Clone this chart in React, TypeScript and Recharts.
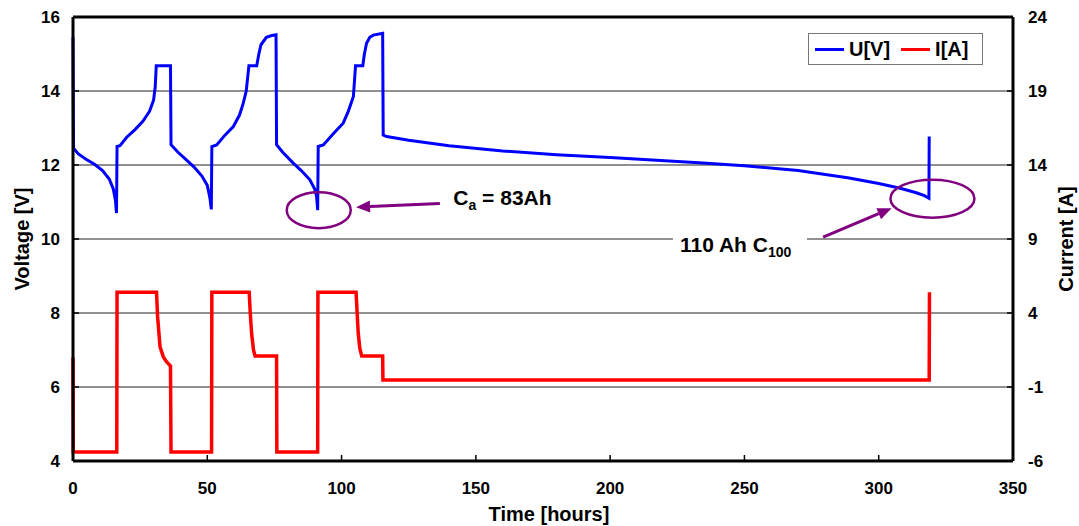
import { LineChart, Line, XAxis, YAxis, CartesianGrid, Legend, ReferenceDot, ReferenceLine } from 'recharts';

// battery voltage, hours vs volts
const voltHours = [
  0, 0.2, 2, 5, 8, 11, 13.5, 15, 15.8, 16.2,
  16.4, 17.5, 20, 23, 26, 28.5, 30, 30.6, 31, 36.3, 36.5,
  39, 42, 45, 48, 50, 51, 51.5,
  51.7, 53.5, 56.5, 59.7, 62, 63.4, 64.5, 65.5, 68.4, 69.2, 70, 72, 74, 75.6, 75.8,
  78, 82, 85, 88.2, 90, 90.7, 91.1,
  91.3, 93.2, 97, 100.6, 102.5, 104.4, 105.2, 107.9, 108.5, 109.3, 110.5, 111.8, 115.3, 115.5,
  116.8, 125, 140, 160, 180, 200, 233, 250, 270, 289, 300, 308, 314, 317, 318.7, 318.8,
];
const voltValues = [
  15.45, 12.45, 12.3, 12.15, 12.02, 11.85, 11.62, 11.35, 11.05, 10.7,
  12.5, 12.52, 12.75, 12.95, 13.18, 13.45, 13.75, 14.1, 14.68, 14.68, 12.55,
  12.35, 12.15, 11.95, 11.7, 11.45, 11.1, 10.8,
  12.5, 12.54, 12.8, 13.04, 13.35, 13.67, 14.0, 14.68, 14.68, 15.0, 15.25, 15.45, 15.5, 15.52, 12.55,
  12.35, 12.05, 11.85, 11.6, 11.35, 11.15, 10.78,
  12.5, 12.54, 12.85, 13.13, 13.45, 13.85, 14.68, 14.68, 15.0, 15.29, 15.45, 15.51, 15.56, 12.81,
  12.77, 12.67, 12.52, 12.38, 12.28, 12.2, 12.06, 11.98, 11.85, 11.65, 11.5, 11.37, 11.25, 11.17, 11.1, 12.77,
];

// current, hours vs amps
const currHours = [
  0, 0.1, 16.3, 16.4, 31.1, 31.5, 32.4, 33.6, 34.8, 36.3, 36.5,
  51.6, 51.7, 65.6, 66.0, 66.5, 67.2, 67.8, 75.8, 75.9,
  91.1, 91.2, 105.4, 105.8, 106.2, 106.8, 107.5, 115.3, 115.4,
  318.8, 318.9,
];
const currValues = [
  1.0, -5.4, -5.4, 5.4, 5.4, 3.75, 1.72, 1.05, 0.71, 0.42, -5.4,
  -5.4, 5.4, 5.4, 4.0, 2.63, 1.5, 1.1, 1.1, -5.4,
  -5.4, 5.4, 5.4, 4.0, 2.63, 1.6, 1.1, 1.1, -0.53,
  -0.53, 5.4,
];

const xTicks = [0, 50, 100, 150, 200, 250, 300, 350];
const voltTicks = [4, 6, 8, 10, 12, 14, 16];
const currTicks = [-6, -1, 4, 9, 14, 19, 24];

const voltData = voltHours.map((t, i) => ({ t, u: voltValues[i] }));
const currData = currHours.map((t, i) => ({ t, i: currValues[i] }));

const FONT = '"Liberation Sans", Arial, sans-serif';
const PURPLE = '#800080';

const XTick = ({ x, y, payload }: any) => (
  <g>
    <line x1={x} y1={y} x2={x} y2={y - 6} stroke="#000" strokeWidth={1.5} />
    <text x={x} y={y + 33} textAnchor="middle" fontFamily={FONT} fontWeight="bold" fontSize={17} fill="#000">
      {payload.value}
    </text>
  </g>
);

const LeftTick = ({ x, y, payload }: any) => (
  <g>
    <line x1={x} y1={y} x2={x + 6} y2={y} stroke="#000" strokeWidth={1.5} />
    <text x={x - 13} y={y + 6} textAnchor="end" fontFamily={FONT} fontWeight="bold" fontSize={17} fill="#000">
      {payload.value}
    </text>
  </g>
);

const RightTick = ({ x, y, payload }: any) => (
  <g>
    <line x1={x} y1={y} x2={x - 6} y2={y} stroke="#000" strokeWidth={1.5} />
    <text x={x + 15} y={y + 6} textAnchor="start" fontFamily={FONT} fontWeight="bold" fontSize={17} fill="#000">
      {payload.value}
    </text>
  </g>
);

const Arrow = (p: any) => {
  const { x1, y1, x2, y2 } = p;
  const a = Math.atan2(y2 - y1, x2 - x1);
  const len = 14;
  const half = 6;
  const bx = x2 - len * Math.cos(a);
  const by = y2 - len * Math.sin(a);
  const nx = -Math.sin(a) * half;
  const ny = Math.cos(a) * half;
  return (
    <g>
      <line x1={x1} y1={y1} x2={bx} y2={by} stroke={PURPLE} strokeWidth={3} />
      <polygon points={`${x2},${y2} ${bx + nx},${by + ny} ${bx - nx},${by - ny}`} fill={PURPLE} />
    </g>
  );
};

const ellipse = (rx: number, ry: number) => (p: any) => (
  <ellipse cx={p.cx} cy={p.cy} rx={rx} ry={ry} fill="none" stroke={PURPLE} strokeWidth={2.5} />
);

const CapacityText = (p: any) => (
  <text x={p.cx} y={p.cy} fontFamily={FONT} fontWeight="bold" fontSize={21} fill="#000">
    <tspan>C</tspan>
    <tspan fontSize={14} dy={5}>a</tspan>
    <tspan dy={-5}> = 83Ah</tspan>
  </text>
);

const RatedText = (p: any) => (
  <g>
    <rect x={p.cx - 7} y={p.cy - 24} width={134} height={34} fill="#fff" />
    <text x={p.cx} y={p.cy} fontFamily={FONT} fontWeight="bold" fontSize={21} fill="#000">
      <tspan>110 Ah C</tspan>
      <tspan fontSize={14} dy={5}>100</tspan>
    </text>
  </g>
);

const LegendBox = () => (
  <div
    style={{
      border: '1px solid #777',
      background: '#fff',
      width: 173,
      height: 30,
      display: 'flex',
      alignItems: 'center',
      fontFamily: FONT,
      fontWeight: 'bold',
      fontSize: 20,
      color: '#000',
    }}
  >
    <span style={{ display: 'inline-block', width: 29, height: 3, background: '#0000ff', marginLeft: 6, marginRight: 5 }} />
    <span>U[V]</span>
    <span style={{ display: 'inline-block', width: 29, height: 3, background: '#ff0000', marginLeft: 11, marginRight: 5 }} />
    <span>I[A]</span>
  </div>
);

const axisTitle = (label: string, cxFn: (vb: any) => number) => ({ viewBox }: any) => {
  const cx = cxFn(viewBox);
  const cy = viewBox.y + viewBox.height / 2;
  return (
    <text
      x={cx}
      y={cy}
      transform={`rotate(-90, ${cx}, ${cy})`}
      textAnchor="middle"
      dominantBaseline="central"
      fontFamily={FONT}
      fontWeight="bold"
      fontSize={20}
      fill="#000"
    >
      {label}
    </text>
  );
};

export default function App() {
  return (
    <div style={{ position: 'fixed', left: 0, top: 0, background: '#fff' }}>
      <LineChart width={1079} height={526} margin={{ top: 17, right: 0, bottom: 0, left: 0 }}>
        <CartesianGrid yAxisId="v" vertical={false} horizontal stroke="#222" strokeWidth={1} />
        <XAxis
          dataKey="t"
          type="number"
          domain={[0, 350]}
          ticks={xTicks}
          height={65}
          tickSize={0}
          tickMargin={0}
          tickLine={false}
          tick={<XTick />}
          axisLine={{ stroke: '#000', strokeWidth: 3 }}
          label={{
            content: ({ viewBox }: any) => (
              <text
                x={viewBox.x + viewBox.width / 2 + 6}
                y={viewBox.y + viewBox.height - 5}
                textAnchor="middle"
                fontFamily={FONT}
                fontWeight="bold"
                fontSize={20}
                fill="#000"
              >
                Time [hours]
              </text>
            ),
          }}
        />
        <YAxis
          yAxisId="v"
          orientation="left"
          domain={[4, 16]}
          ticks={voltTicks}
          width={73}
          tickSize={0}
          tickMargin={0}
          tickLine={false}
          tick={<LeftTick />}
          axisLine={{ stroke: '#000', strokeWidth: 3 }}
          label={{ content: axisTitle('Voltage [V]', () => 22) }}
        />
        <YAxis
          yAxisId="a"
          orientation="right"
          domain={[-6, 24]}
          ticks={currTicks}
          width={66}
          tickSize={0}
          tickMargin={0}
          tickLine={false}
          tick={<RightTick />}
          axisLine={{ stroke: '#000', strokeWidth: 3 }}
          label={{ content: axisTitle('Current [A]', () => 1066) }}
        />
        <ReferenceLine yAxisId="v" y={16} stroke="#000" strokeWidth={3} />
        <Legend
          layout="horizontal"
          align="center"
          verticalAlign="middle"
          content={<LegendBox />}
          wrapperStyle={{ left: 808, top: 33, width: 'auto', height: 'auto' }}
        />
        <Line
          data={currData}
          yAxisId="a"
          dataKey="i"
          name="I[A]"
          type="linear"
          stroke="#ff0000"
          strokeWidth={3.5}
          dot={false}
          isAnimationActive={false}
        />
        <Line
          data={voltData}
          yAxisId="v"
          dataKey="u"
          name="U[V]"
          type="linear"
          stroke="#0000ff"
          strokeWidth={3}
          dot={false}
          isAnimationActive={false}
        />
        <ReferenceDot yAxisId="v" x={91.5} y={10.78} r={1} shape={ellipse(32, 18)} />
        <ReferenceDot yAxisId="v" x={320} y={11.09} r={1} shape={ellipse(42, 19)} />
        <ReferenceLine yAxisId="v" segment={[{ x: 136.6, y: 10.96 }, { x: 105.4, y: 10.86 }]} shape={Arrow} />
        <ReferenceLine yAxisId="v" segment={[{ x: 279.3, y: 10.05 }, { x: 304.8, y: 10.83 }]} shape={Arrow} />
        <ReferenceDot yAxisId="v" x={141.6} y={10.92} r={1} shape={CapacityText} />
        <ReferenceDot yAxisId="v" x={226} y={9.66} r={1} shape={RatedText} />
      </LineChart>
    </div>
  );
}
